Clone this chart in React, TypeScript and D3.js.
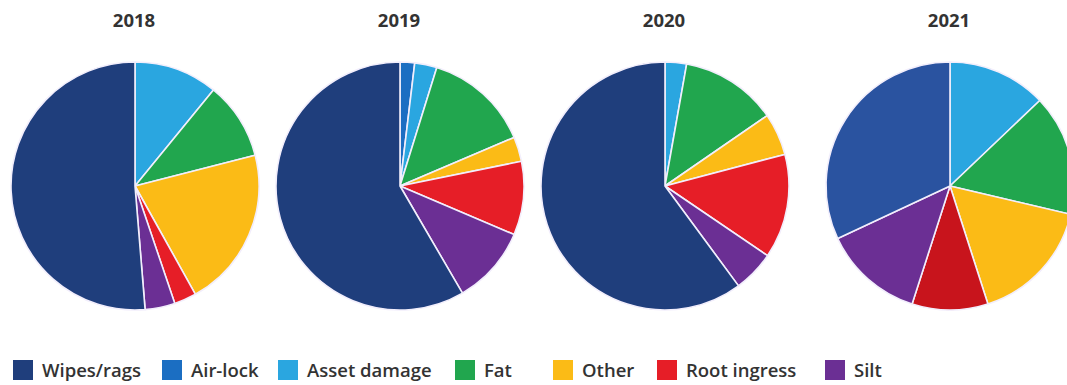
import React from "react";
import * as d3 from "d3";

const categories = ["Wipes/rags", "Air-lock", "Asset damage", "Fat", "Other", "Root ingress", "Silt"];
const years = ["2018", "2019", "2020", "2021"];
// values per year, in category order (percent)
const values2018 = [51.3, 0, 10.9, 10.1, 20.9, 2.9, 3.9];
const values2019 = [58.4, 1.9, 2.9, 13.8, 3.2, 9.6, 10.2];
const values2020 = [60.1, 0, 2.8, 12.6, 5.5, 13.6, 5.4];
const values2021 = [32.0, 0, 12.9, 15.8, 16.4, 9.9, 13.1];
const yearValues = [values2018, values2019, values2020, values2021];

// drawing order clockwise from 12 o'clock (category indices)
const sliceOrder = [1, 2, 3, 4, 5, 6, 0];

const colors = ["#1f3e7c", "#1b6ec2", "#2aa6e0", "#21a64e", "#fbbb16", "#e61e27", "#6b2f94"];
const colors2021 = ["#2a53a0", "#1b6ec2", "#2aa6e0", "#21a64e", "#fbbb16", "#c8141c", "#6b2f94"];

const W = 1067;
const H = 385;
const FONT = "'Open Sans', 'Noto Sans', sans-serif";

export default function App() {
  const centers = [135, 400, 665, 950];
  const cy = 186;
  const r = 124;
  const arc = d3.arc<d3.PieArcDatum<number>>().innerRadius(0).outerRadius(r);
  const legendX = [13, 162, 278, 455, 553, 657, 825];

  return (
    <svg width={W} height={H} style={{ position: "absolute", left: 0, top: 0, background: "#fff" }}>
      {years.map((yr, yi) => {
        const vals = yearValues[yi];
        const pal = yi === 3 ? colors2021 : colors;
        const p = d3
          .pie<number>()
          .sort(null)
          .value((ci) => vals[ci])
          .startAngle(0)
          .endAngle(2 * Math.PI);
        const arcs = p(sliceOrder).filter((a) => a.value > 0);
        return (
          <g key={yr}>
            <text
              x={centers[yi] - 1}
              y={27}
              textAnchor="middle"
              fontFamily={FONT}
              fontWeight={700}
              fontSize={18.5}
              fill="#333"
            >
              {yr}
            </text>
            <g transform={`translate(${centers[yi]},${cy})`}>
              {arcs.map((a) => (
                <path
                  key={a.data}
                  d={arc(a) || ""}
                  fill={pal[a.data]}
                  stroke="#f2eefc"
                  strokeWidth={1.6}
                  strokeLinejoin="round"
                />
              ))}
            </g>
          </g>
        );
      })}
      <g>
        {categories.map((c, i) => (
          <g key={c} transform={`translate(${legendX[i]},360)`}>
            <rect x={0} y={0} width={20} height={20} fill={colors[i]} />
            <text x={29} y={16.5} fontFamily={FONT} fontWeight={600} fontSize={18.5} fill="#333">
              {c}
            </text>
          </g>
        ))}
      </g>
    </svg>
  );
}
